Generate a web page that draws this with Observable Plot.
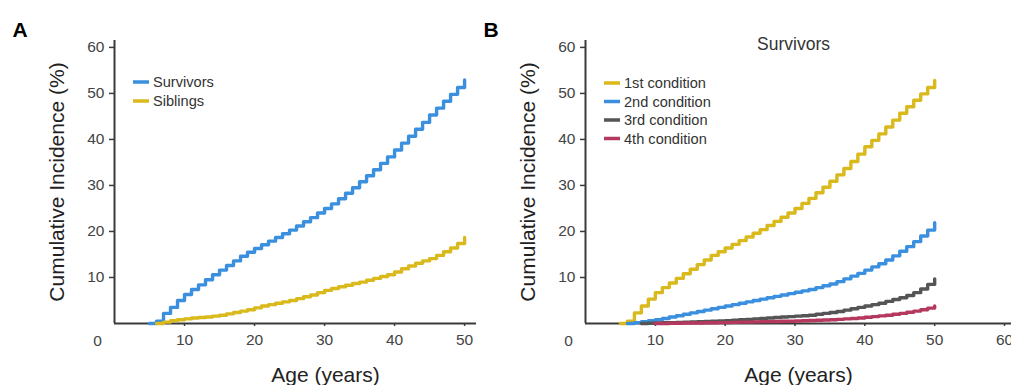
<!DOCTYPE html>
<html>
<head>
<meta charset="utf-8">
<script src="https://cdn.jsdelivr.net/npm/d3@7"></script>
<script src="https://cdn.jsdelivr.net/npm/@observablehq/plot@0.6"></script>
<style>
  html, body { margin: 0; padding: 0; background: #fff; }
  #wrap { position: relative; width: 1011px; height: 385px; overflow: hidden; background: #fff; }
  #wrap svg { position: absolute; top: 0; }
</style>
</head>
<body>
<div id="wrap"></div>
<script>
// ---- data ----
const ages = [5,6,7,8,9,10,11,12,13,14,15,16,17,18,19,20,21,22,23,24,25,26,27,28,29,30,31,32,33,34,35,36,37,38,39,40,41,42,43,44,45,46,47,48,49,50];

// Panel A
const survivors = [0,0.5,2.2,3.5,5.0,6.3,
  7.4,8.4,9.5,10.6,11.6,12.6,13.6,14.6,15.5,16.3,
  17.1,17.9,18.7,19.5,20.3,21.2,22.1,23.0,24.0,25.0,
  26.0,27.1,28.3,29.5,30.8,32.1,33.4,34.8,36.2,37.7,
  39.2,40.7,42.2,43.7,45.3,46.8,48.3,49.8,51.3,52.9];
const siblings = [null,0,0.3,0.6,0.8,1.0,
  1.2,1.3,1.4,1.6,1.8,2.1,2.4,2.7,3.0,3.4,
  3.8,4.1,4.4,4.7,5.0,5.4,5.8,6.2,6.7,7.2,
  7.6,8.0,8.3,8.7,9.0,9.4,9.8,10.2,10.6,11.2,
  11.9,12.5,13.1,13.6,14.1,14.8,15.6,16.4,17.4,18.7];

// Panel B
const cond1 = [0,0.5,2.3,3.8,5.3,6.7,
  7.8,8.8,9.8,10.8,11.8,12.8,13.8,14.8,15.6,16.4,
  17.2,18.0,18.8,19.6,20.4,21.3,22.2,23.1,24.0,25.0,
  26.1,27.2,28.4,29.6,30.9,32.3,33.7,35.2,36.8,38.4,
  39.8,41.2,42.7,44.2,45.7,47.1,48.5,49.9,51.3,52.8];
const cond2 = [null,0,0.2,0.4,0.6,0.8,
  1.1,1.4,1.7,2.0,2.3,2.6,2.9,3.2,3.5,3.8,
  4.1,4.4,4.7,5.0,5.3,5.6,5.9,6.2,6.5,6.8,
  7.1,7.4,7.8,8.2,8.6,9.1,9.7,10.3,10.9,11.6,
  12.3,13.0,13.8,14.7,15.7,16.7,17.8,19.0,20.3,21.9];
const cond3 = [null,null,null,0,0.05,0.1,
  0.15,0.2,0.25,0.3,0.35,0.4,0.45,0.5,0.55,0.6,
  0.7,0.8,0.9,1.0,1.1,1.2,1.3,1.4,1.5,1.6,
  1.7,1.8,2.0,2.2,2.4,2.6,2.9,3.2,3.5,3.8,
  4.1,4.4,4.8,5.2,5.6,6.1,6.7,7.5,8.5,9.7];
const cond4 = [null,null,null,null,null,0,
  0,0.05,0.05,0.1,0.1,0.1,0.15,0.15,0.2,0.2,
  0.25,0.3,0.3,0.35,0.4,0.4,0.45,0.5,0.5,0.55,
  0.6,0.65,0.7,0.75,0.8,0.9,1.0,1.1,1.2,1.35,
  1.5,1.65,1.8,2.0,2.2,2.45,2.7,3.0,3.35,3.8];

const seriesA = ["Survivors", "Siblings"];
const seriesB = ["1st condition", "2nd condition", "3rd condition", "4th condition"];
const yTicks = [10, 20, 30, 40, 50, 60];
const xTicksA = [10, 20, 30, 40, 50];
const xTicksB = [10, 20, 30, 40, 50, 60];
const yLabel = "Cumulative Incidence (%)";
const xLabel = "Age (years)";
const titleB = "Survivors";

// ---- styling ----
const BLUE = "#3a8fde", YELLOW = "#d9b91c", GRAY = "#555555", RED = "#b5385e";
const colorsA = [BLUE, YELLOW];
const colorsB = [YELLOW, BLUE, GRAY, RED];
const AXIS = "#3a3a3a";
const TICKFONT = "'Liberation Sans', Arial, sans-serif";

const rows = vals => ages.map((a, i) => ({age: a, v: vals[i]}));

function legend(labels, colors, x0, y0, step) {
  return () => {
    const g = d3.create("svg:g");
    labels.forEach((lab, i) => {
      const y = y0 + i * step;
      g.append("line").attr("x1", x0).attr("x2", x0 + 16).attr("y1", y).attr("y2", y)
        .attr("stroke", colors[i]).attr("stroke-width", 3.5);
      g.append("text").attr("x", x0 + 20).attr("y", y).attr("dy", "0.35em")
        .attr("text-anchor", "start")
        .attr("fill", "#333").attr("font-size", 14.6).attr("font-family", TICKFONT).text(lab);
    });
    return g.node();
  };
}

function panel({width, marginLeft, marginRight, xmax, xTicks, series, colors, names, letter, legendPos, xLabelDx, title}) {
  const marks = [
    Plot.axisY({ticks: yTicks, tickSize: 5, tickPadding: 5, label: null, fontSize: 15.5, fill: "#444", stroke: AXIS, strokeWidth: 1.5}),
    Plot.axisX({ticks: xTicks, tickSize: 3, tickPadding: 7, label: null, fontSize: 15.5, fill: "#444", stroke: AXIS, strokeWidth: 1.5}),
    Plot.ruleX([0], {stroke: AXIS, strokeWidth: 2}),
    Plot.ruleY([0], {stroke: AXIS, strokeWidth: 2}),
    ...series.map((s, i) => Plot.line(rows(s), {x: "age", y: "v", curve: "step-after", stroke: colors[i], strokeWidth: 3.4})),
    Plot.text(["0"], {frameAnchor: "bottom-left", text: d => d, dx: -17, dy: 18, textAnchor: "middle", lineAnchor: "middle", fontSize: 15.5, fill: "#444", fontFamily: TICKFONT}),
    Plot.text([yLabel], {frameAnchor: "left", text: d => d, rotate: -90, dx: -57, textAnchor: "middle", lineAnchor: "middle", fontSize: 21, fill: "#222", fontFamily: TICKFONT}),
    Plot.text([xLabel], {frameAnchor: "bottom", text: d => d, dx: xLabelDx, dy: 52, textAnchor: "middle", lineAnchor: "middle", fontSize: 21, fill: "#222", fontFamily: TICKFONT}),
    Plot.text([letter], {frameAnchor: "top-left", text: d => d, dx: -102, dy: -10, textAnchor: "start", lineAnchor: "middle", fontSize: 21, fontWeight: "bold", fill: "#000", fontFamily: TICKFONT}),
    legend(names, colors, legendPos[0], legendPos[1], legendPos[2])
  ];
  if (title) marks.push(Plot.text([title], {frameAnchor: "top", text: d => d, dx: -5, dy: 4, textAnchor: "middle", lineAnchor: "middle", fontSize: 17.5, fill: "#333", fontFamily: TICKFONT}));
  return Plot.plot({
    width, height: 385,
    marginLeft, marginRight, marginTop: 40, marginBottom: 62,
    x: {domain: [0, xmax]},
    y: {domain: [0, 61.5]},
    style: {background: "transparent", fontFamily: TICKFONT, overflow: "visible"},
    marks
  });
}

const wrap = document.getElementById("wrap");

const svgA = panel({
  width: 490, marginLeft: 114, marginRight: 14, xmax: 51.7, xTicks: xTicksA,
  series: [survivors, siblings], colors: colorsA, names: seriesA, letter: "A",
  legendPos: [133, 82, 19], xLabelDx: 30
});
svgA.style.left = "0px";
wrap.appendChild(svgA);

const svgB = panel({
  width: 541, marginLeft: 115, marginRight: 0, xmax: 61, xTicks: xTicksB,
  series: [cond1, cond2, cond3, cond4], colors: colorsB, names: seriesB, letter: "B",
  legendPos: [134, 83, 18.5], xLabelDx: 0, title: titleB
});
svgB.style.left = "470px";
wrap.appendChild(svgB);
</script>
</body>
</html>
